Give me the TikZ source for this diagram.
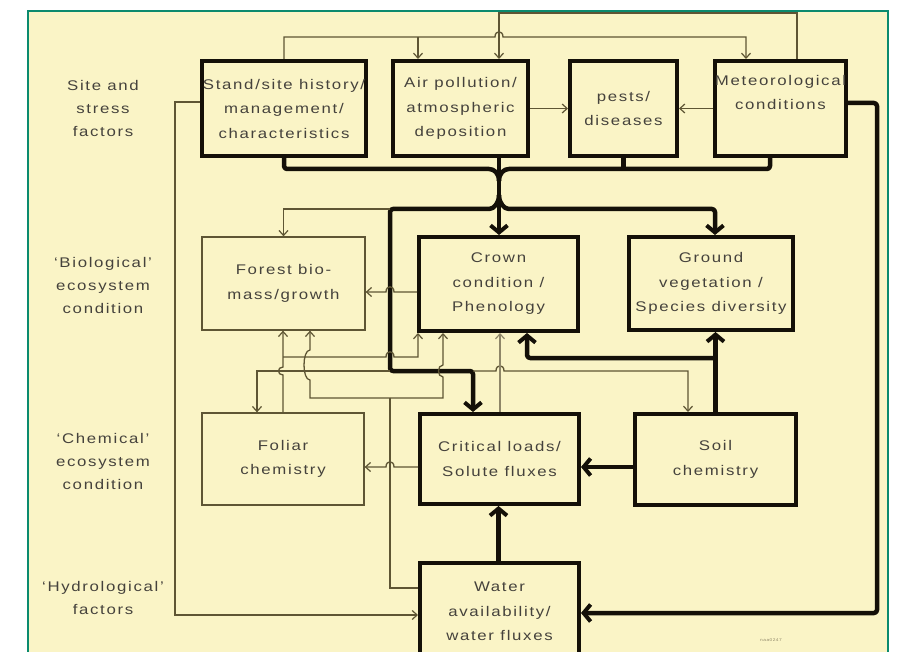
\documentclass[tikz,border=0pt]{standalone}
\usepackage{fontspec}
\setmainfont{Liberation Sans}[FakeStretch=1.2, LetterSpace=12]
\usetikzlibrary{arrows.meta}
\definecolor{bg}{HTML}{FAF4C6}
\definecolor{framec}{HTML}{0B8A6E}
\definecolor{thinc}{HTML}{5E5534}
\definecolor{lightc}{HTML}{8E8668}
\definecolor{txt}{HTML}{45423C}
\definecolor{inkc}{HTML}{141008}
\newcommand\bxfont{\fontsize{14}{24.5}\selectfont}
\tikzset{
  thickbox/.style={draw=inkc, line width=4pt, inner sep=0pt, align=center, text=txt, font=\bxfont},
  thinbox/.style={draw=thinc, line width=1.3pt, inner sep=0pt, align=center, text=txt, font=\bxfont},
  sidelabel/.style={align=center, text=txt, font=\fontsize{14}{23}\selectfont},
  thinl/.style={draw=thinc, line width=1.3pt},
  lightl/.style={draw=lightc, line width=1.3pt},
  thickl/.style={draw=inkc, line width=4.5pt, rounded corners=3pt, line join=round},
  tarr/.style={-{Straight Barb[length=5pt,width=9pt,line width=1.2pt]}},
  karr/.style={-{Straight Barb[length=7pt,width=17pt,line width=4pt]}},
}
\begin{document}
\begin{tikzpicture}[x=1pt,y=-1pt]
\useasboundingbox (0,0) rectangle (897,652);
\begin{scope}
\clip (0,0) rectangle (897,652);
\fill[white] (0,0) rectangle (897,652);
\fill[bg] (28,11) rectangle (888,660);
\draw[framec, line width=1.2pt] (28,660) -- (28,11) -- (888,11) -- (888,660);

% side labels
\node[sidelabel] (lsite) at (103,108) {Site and\\stress\\factors};
\node[sidelabel] (lbio) at (103,285) {`Biological'\\ecosystem\\condition};
\node[sidelabel] (lchem) at (103,461) {`Chemical'\\ecosystem\\condition};
\node[sidelabel] (lhydro) at (103,598) {`Hydrological'\\factors};

% boxes
\node[thickbox, minimum width=164pt, minimum height=95pt] (stand) at (284,108.5) {Stand/site history/\\management/\\characteristics};
\node[thickbox, minimum width=135pt, minimum height=95pt] (air) at (460.5,108.5) {Air pollution/\\atmospheric\\deposition};
\node[thickbox, minimum width=107pt, minimum height=95pt] (pests) at (623.5,108.5) {pests/\\diseases};
\node[thickbox, minimum width=131pt, minimum height=95pt] (meteo) at (780.5,108.5) {Meteorological\\conditions\\\strut};
\node[thinbox, minimum width=163pt, minimum height=93pt] (forest) at (283.5,283.5) {Forest bio-\\mass/growth};
\node[thickbox, minimum width=159pt, minimum height=94pt] (crown) at (498.5,284) {Crown\\condition /\\Phenology};
\node[thickbox, minimum width=164pt, minimum height=93pt] (ground) at (711,283.5) {Ground\\vegetation /\\Species diversity};
\node[thinbox, minimum width=162pt, minimum height=92pt] (foliar) at (283,459) {Foliar\\chemistry};
\node[thickbox, minimum width=159pt, minimum height=90pt] (critical) at (499.5,459) {Critical loads/\\Solute fluxes};
\node[thickbox, minimum width=161pt, minimum height=91pt] (soil) at (715.5,459.5) {Soil\\chemistry};
\node[thickbox, minimum width=159pt, minimum height=97pt] (water) at (499.5,611.5) {Water\\availability/\\water fluxes};

% top thin connectors
\draw[thinl,tarr] ([xshift=16.5pt]meteo.north) -- (797,13) -- (499,13) -- ([xshift=38.5pt]air.north);
\draw[thinl,tarr] (stand.north) -- (284,37) -- (495,37) .. controls (495,30) and (503,30) .. (503,37) -- (746,37) -- ([xshift=-34.5pt]meteo.north);
\draw[thinl,tarr] (418,37) -- ([xshift=-42.5pt]air.north);
\draw[thinl,tarr] (air.east) -- (pests.west);
\draw[thinl,tarr] (meteo.west) -- (pests.east);
\draw[thinl,tarr] ([yshift=6.5pt]stand.west) -- (175,102) -- (175,615) -- ([yshift=-3.5pt]water.west);

% thick: meteorological to water
\draw[thickl,karr] ([yshift=5.5pt]meteo.east) -- (877,103) -- (877,613) -- ([yshift=-1.5pt]water.east);

% thick bus
\draw[thickl] (stand.south) -- (284,169) -- (486,169) .. controls (494,169) and (499,173) .. (499,181);
\draw[thickl] ([xshift=-10.5pt]meteo.south) -- (770,169) -- (512,169) .. controls (504,169) and (499,173) .. (499,181);
\draw[thickl] (pests.south) -- (623.5,169);
\draw[thickl] ([xshift=38.5pt]air.south) -- (499,181);
\draw[thickl,karr] (499,181) -- ([xshift=0.5pt]crown.north);
\coordinate (busL) at (390,209);
\coordinate (cornL) at (390,371);
\coordinate (cornR) at (473,371);
\draw[thickl,karr] (499,195) .. controls (499,203) and (494,209) .. (486,209) -- (busL) -- (cornL) -- (cornR) -- ([xshift=-26.5pt]critical.north);
\draw[thickl,karr] (499,195) .. controls (499,203) and (504,209) .. (512,209) -- (715,209) -- ([xshift=4pt]ground.north);

% thick: soil, water
\draw[thickl,karr] (soil.north) -- ([xshift=4.5pt]ground.south);
\draw[thickl,karr] (715.5,358) -- (527,358) -- ([xshift=28.5pt]crown.south);
\draw[thickl,karr] ([yshift=-7.5pt]soil.west) -- ([yshift=-8pt]critical.east);
\draw[thickl,karr] ([xshift=-1pt]water.north) -- ([xshift=-1pt]critical.south);

% thin middle connectors
\draw[thinl,tarr] ([yshift=-8pt]crown.west) -- (394,292) .. controls (394,285) and (386,285) .. (386,292) -- ([yshift=-8.5pt]forest.east);
\draw[thinl,tarr] (busL) -- (283.5,209) -- (forest.north);
\draw[thinl,tarr] (cornL) -- (257,371) -- ([xshift=-26pt]foliar.north);
\draw[thinl,tarr] (cornR) -- (496,371) .. controls (496,364) and (504,364) .. (504,371) -- (688,371) -- ([xshift=-27.5pt]soil.north);
\draw[lightl,tarr] ([xshift=0.5pt]critical.north) -- ([xshift=1.5pt]crown.south);
\draw[thinl,tarr] (foliar.north) -- (283,375) .. controls (277,375) and (277,367) .. (283,367) -- ([xshift=-0.5pt]forest.south);
\draw[thinl,tarr] (283,357) -- (386,357) .. controls (386,350) and (394,350) .. (394,357) -- (418,357) -- ([xshift=-80.5pt]crown.south);
\coordinate (wj) at (390,398);
\draw[thinl] ([yshift=23.5pt]water.west) -- (390,588) -- (wj);
\draw[thinl,tarr] (wj) -- (310,398) -- (310,380) .. controls (302,380) and (302,350) .. (310,350) -- ([xshift=26.5pt]forest.south);
\draw[thinl,tarr] (wj) -- (443,398) -- (443,377) .. controls (437,377) and (437,365) .. (443,365) -- ([xshift=-55.5pt]crown.south);
\draw[thinl,tarr] ([yshift=-8pt]critical.west) -- (394,467) .. controls (394,460) and (386,460) .. (386,467) -- ([yshift=-8pt]foliar.east);

\node[text=lightc, font=\fontsize{4}{4}\selectfont] (code) at (771,640) {naa0247};
\end{scope}
\end{tikzpicture}
\end{document}
